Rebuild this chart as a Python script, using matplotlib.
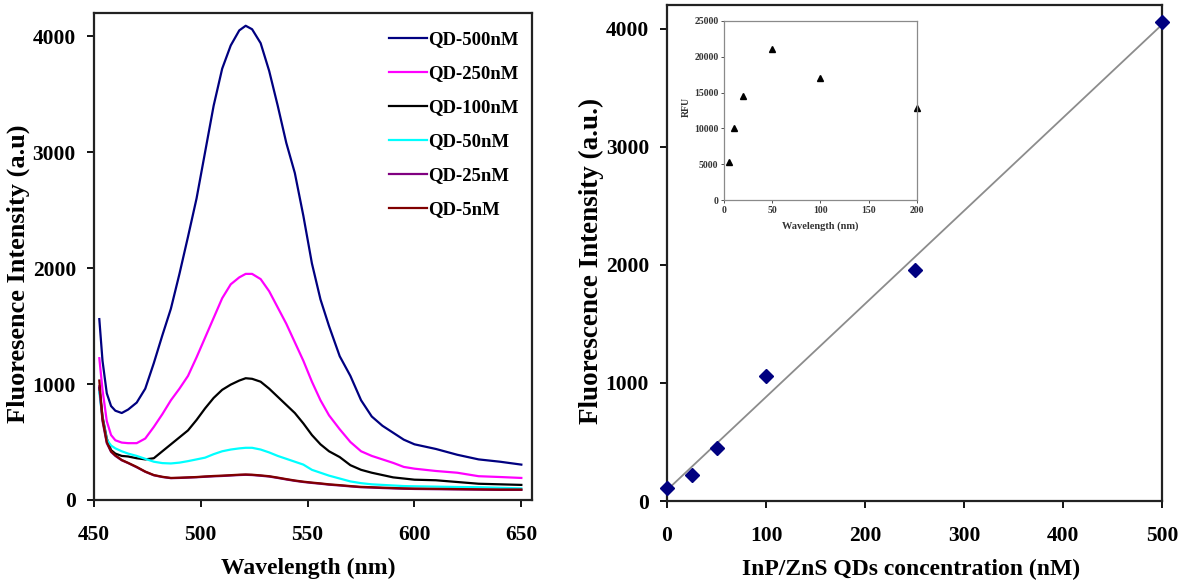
import matplotlib
matplotlib.use('Agg')
import matplotlib.pyplot as plt
import numpy as np

plt.rcParams['font.family'] = ['Liberation Serif', 'DejaVu Serif']
plt.rcParams['font.weight'] = 'bold'
plt.rcParams['axes.labelweight'] = 'bold'

# emission spectra, sampled on a common wavelength grid (nm)
wavelength = [452.5, 454, 456, 458, 460, 463, 466, 470, 474, 478, 482, 486, 490, 494,
              498, 502, 506, 510, 514, 518, 521, 524, 528, 532, 536, 540, 544, 548,
              552, 556, 560, 565, 570, 575, 580, 585, 590, 595, 600, 610, 620, 630,
              640, 650]

qd_500 = [1560, 1200, 920, 810, 770, 750, 780, 840, 960, 1180, 1420, 1650, 1950, 2270,
          2600, 3000, 3400, 3720, 3920, 4050, 4090, 4060, 3940, 3700, 3400, 3080, 2820,
          2450, 2040, 1730, 1500, 1240, 1070, 860, 720, 640, 580, 520, 480, 440, 390,
          350, 330, 305]
qd_250 = [1223, 950, 680, 560, 515, 495, 490, 490, 530, 630, 740, 860, 960, 1070,
          1230, 1400, 1570, 1740, 1860, 1920, 1950, 1950, 1905, 1800, 1660, 1520, 1360,
          1200, 1020, 860, 730, 610, 500, 420, 380, 350, 320, 285, 270, 250, 235, 205,
          198, 190]
qd_100 = [965, 720, 530, 430, 400, 380, 375, 360, 350, 360, 420, 480, 540, 600,
          690, 790, 880, 950, 995, 1030, 1050, 1045, 1020, 960, 890, 820, 750, 660,
          560, 480, 420, 370, 300, 260, 235, 215, 195, 185, 175, 170, 155, 140, 135, 130]
qd_50 = [930, 700, 520, 470, 445, 420, 400, 380, 355, 330, 318, 315, 322, 335,
         350, 365, 395, 420, 435, 445, 450, 450, 435, 410, 380, 355, 330, 305,
         260, 235, 210, 185, 160, 145, 135, 130, 125, 120, 118, 115, 112, 110, 105, 100]
qd_25 = [980, 680, 490, 415, 380, 342, 318, 282, 243, 213, 198, 188, 190, 193,
         196, 200, 204, 207, 211, 215, 217, 215, 209, 202, 190, 177, 165, 155,
         147, 140, 132, 125, 117, 110, 107, 103, 100, 97, 95, 93, 91, 89, 87, 87]
qd_5 = [1030, 700, 500, 420, 385, 345, 320, 285, 245, 215, 200, 190, 192, 195,
        198, 203, 207, 210, 214, 218, 220, 218, 212, 205, 193, 180, 168, 158,
        150, 143, 135, 128, 120, 113, 110, 106, 103, 100, 98, 96, 94, 92, 90, 90]

series_labels = ['QD-500nM', 'QD-250nM', 'QD-100nM', 'QD-50nM', 'QD-25nM', 'QD-5nM']
series_colors = ['#000080', '#ff00ff', '#000000', '#00ffff', '#800080', '#800000']

# peak intensity vs concentration
concentration = [0, 25, 50, 100, 250, 500]
peak_intensity = [110, 218, 448, 1055, 1957, 4060]

# inset: RFU readings
inset_x = [5, 10, 20, 50, 100, 200]
inset_rfu = [5250, 10080, 14540, 21140, 17100, 12870]

fig = plt.figure(figsize=(11.82, 5.86), dpi=100)

# --- left panel: spectra ---
ax1 = fig.add_axes([0.0795, 0.1468, 0.3706, 0.831])
spectra = [qd_500, qd_250, qd_100, qd_50, qd_25, qd_5]
for ys, lab, col in zip(spectra, series_labels, series_colors):
    ax1.plot(wavelength, ys, color=col, linewidth=1.6, label=lab)
ax1.set_xlim(450, 655)
ax1.set_ylim(0, 4200)
ax1.set_xticks([450, 500, 550, 600, 650])
ax1.set_yticks([0, 1000, 2000, 3000, 4000])
ax1.set_xlabel('Wavelength (nm)', fontsize=17)
ax1.set_ylabel('Fluoresence Intensity (a.u)', fontsize=19)
ax1.xaxis.set_label_coords(0.49, -0.118)
ax1.yaxis.set_label_coords(-0.146, 0.465)
ax1.legend(loc='upper right', frameon=False, fontsize=13.5, handlelength=2.0,
           handletextpad=0.1, labelspacing=0.9, borderaxespad=0.3,
           bbox_to_anchor=(1.0, 0.99))

# --- right panel: calibration ---
ax2 = fig.add_axes([0.5643, 0.145, 0.4188, 0.8464])
slope, intercept = np.polyfit(concentration, peak_intensity, 1)
fit_x = np.array([0, 500])
ax2.plot(fit_x, slope * fit_x + intercept, color='#8c8c8c', linewidth=1.3, zorder=2)
ax2.plot(concentration, peak_intensity, linestyle='none', marker='D', markersize=7.5,
         color='#000080', zorder=3, clip_on=False)
ax2.set_xlim(0, 500)
ax2.set_ylim(0, 4200)
ax2.set_xticks([0, 100, 200, 300, 400, 500])
ax2.set_yticks([0, 1000, 2000, 3000, 4000])
ax2.set_xlabel('InP/ZnS QDs concentration (nM)', fontsize=17)
ax2.set_ylabel('Fluorescence Intensity (a.u.)', fontsize=19.5)
ax2.xaxis.set_label_coords(0.493, -0.117)
ax2.yaxis.set_label_coords(-0.127, 0.484)

for ax in (ax1, ax2):
    for sp in ax.spines.values():
        sp.set_linewidth(1.6)
        sp.set_color('#222222')
    ax.tick_params(axis='both', direction='out', length=5, width=1.3, labelsize=15.5)
    ax.tick_params(axis='x', pad=13)
    ax.tick_params(axis='y', pad=8)

# --- inset ---
ax3 = fig.add_axes([0.6125, 0.6587, 0.1633, 0.3055])
ax3.plot(inset_x, inset_rfu, linestyle='none', marker='^', markersize=5, color='black',
         clip_on=False)
ax3.set_xlim(0, 200)
ax3.set_ylim(0, 25000)
ax3.set_xticks([0, 50, 100, 150, 200])
ax3.set_yticks([0, 5000, 10000, 15000, 20000, 25000])
ax3.set_xlabel('Wavelength (nm)', fontsize=7.5, color='#333333')
ax3.set_ylabel('RFU', fontsize=7, color='#333333')
ax3.xaxis.set_label_coords(0.5, -0.12)
ax3.yaxis.set_label_coords(-0.17, 0.52)
ax3.tick_params(axis='both', direction='out', length=2, width=0.6, labelsize=7,
                colors='#333333', pad=2)
for sp in ax3.spines.values():
    sp.set_linewidth(0.9)
    sp.set_color('#8a8a8a')

fig.savefig('out.png', dpi=100)
